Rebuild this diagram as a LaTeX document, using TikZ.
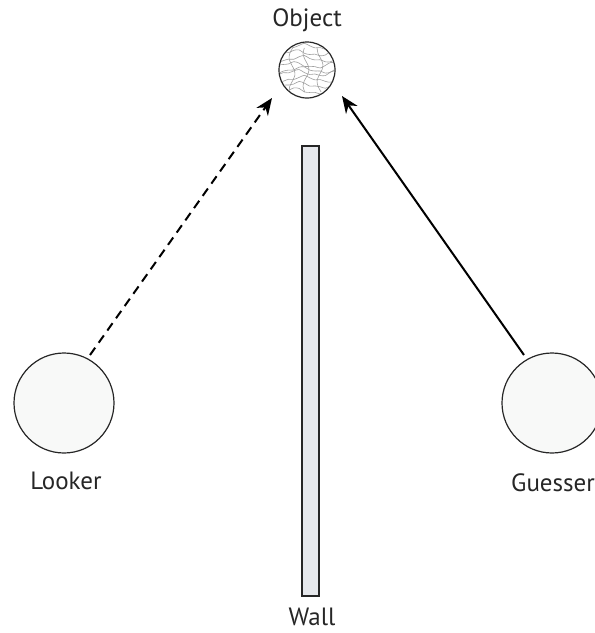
\documentclass[tikz,border=0pt]{standalone}
\usepackage{fontspec}
\setmainfont{PT Sans}
\usetikzlibrary{arrows.meta}
\definecolor{wallfill}{HTML}{E6E8EC}
\definecolor{ballfill}{HTML}{F8F9F8}
\tikzset{
  person/.style={circle, draw=black!85, line width=1.2pt, fill=ballfill, minimum size=100pt, inner sep=0pt},
  lbl/.style={font=\fontsize{25}{28}\selectfont, text=black!85, inner sep=0pt},
  conn/.style={line width=2pt, -{Stealth[length=17pt,width=14pt]}},
  contour/.style={gray!75, line width=0.6pt},
}
\begin{document}
\begin{tikzpicture}[x=1pt,y=-1pt]
\useasboundingbox (0,0) rectangle (595,633);
% wall
\node[draw=black!85, line width=1.2pt, fill=wallfill, minimum width=17pt, minimum height=450pt, inner sep=0pt] (wall) at (310.5,371) {};
\node[lbl] (walllbl) at (312,617) {Wall};
% object
\node[circle, draw=black!85, line width=1.2pt, fill=white, minimum size=56pt, inner sep=0pt] (obj) at (307,70) {};
\begin{scope}
\clip (307,70) circle (27.4pt);
\foreach \yy/\ph in {47/0,53/70,59/10,65/90,70/20,73/60,79/0,85/40,91/80}{
  \draw[contour] plot[smooth, domain=278:336, samples=12] (\x,{\yy+2.5*sin(8*\x+\ph)+1.2*sin(21*\x+2*\ph)});
}
\foreach \xx/\ph in {292/0,306/45,320/90}{
  \draw[contour] plot[smooth, domain=48:92, samples=9] ({\xx+3*sin(11*\x+\ph)},\x);
}
\end{scope}
\node[lbl] (objlbl) at (307,20) {Object};
% people
\node[person] (looker) at (64,403) {};
\node[lbl] (lookerlbl) at (66,481) {Looker};
\node[person] (guesser) at (552,403) {};
\node[lbl, anchor=west] (guesserlbl) at (511,483) {Guesser};
% arrows
\coordinate (ls) at (90,355);
\coordinate (le) at (272,98);
\coordinate (gs) at (524,355);
\coordinate (ge) at (342,96);
\draw[conn, dash pattern=on 9pt off 6pt] (ls) -- (le);
\draw[conn] (gs) -- (ge);
\end{tikzpicture}
\end{document}
